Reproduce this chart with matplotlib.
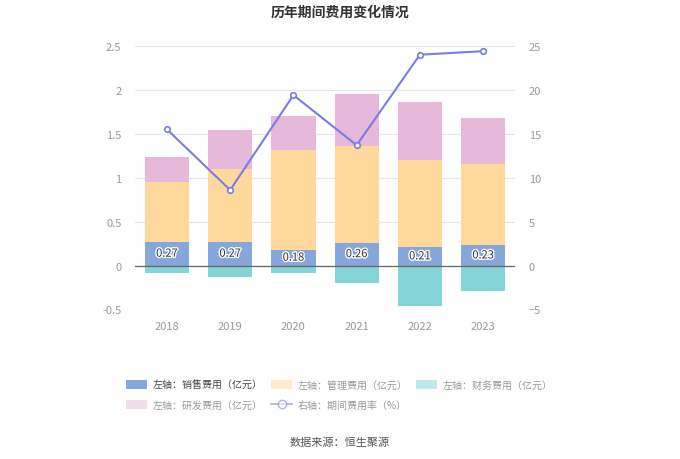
import matplotlib.pyplot as plt
import matplotlib.patheffects as pe
from matplotlib.patches import Patch
from matplotlib.lines import Line2D
import numpy as np

plt.rcParams['font.family'] = ['Noto Sans CJK SC', 'DejaVu Sans']

years = ['2018', '2019', '2020', '2021', '2022', '2023']
sales = [0.27, 0.27, 0.18, 0.26, 0.21, 0.23]
mgmt = [0.68, 0.83, 1.13, 1.10, 0.99, 0.93]
finance = [-0.08, -0.13, -0.08, -0.20, -0.455, -0.29]
rnd = [0.29, 0.44, 0.39, 0.59, 0.66, 0.52]
rate = [15.5, 8.6, 19.4, 13.7, 24.0, 24.4]

c_sales = '#87a6d9'
c_mgmt = '#ffd99b'
c_fin = '#85d5d8'
c_rnd = '#e6b8d9'
c_line = '#7b7be6'

fig = plt.figure(figsize=(6.8, 4.6), dpi=100)
ax = fig.add_axes([0.199, 0.325, 0.558, 0.573])
ax2 = ax.twinx()

x = np.arange(len(years))
w = 0.7
sales = np.array(sales)
mgmt = np.array(mgmt)
rnd = np.array(rnd)

ax.bar(x, sales, w, color=c_sales, zorder=2)
ax.bar(x, mgmt, w, bottom=sales, color=c_mgmt, zorder=2)
ax.bar(x, rnd, w, bottom=sales + mgmt, color=c_rnd, zorder=2)
ax.bar(x, finance, w, color=c_fin, zorder=2)

for i, v in enumerate(sales):
    ax.text(x[i], v / 2, f'{v:.2f}', ha='center', va='center', fontsize=8,
            color='#333333', zorder=4,
            path_effects=[pe.withStroke(linewidth=2, foreground='white')])

ax.axhline(0, color='#666666', lw=0.9, zorder=3)

ax.set_ylim(-0.5, 2.5)
ax.set_yticks([-0.5, 0, 0.5, 1, 1.5, 2, 2.5])
ax.set_yticklabels(['-0.5', '0', '0.5', '1', '1.5', '2', '2.5'])
ax.set_xlim(-0.5, len(years) - 0.5)
ax.set_xticks(x)
ax.set_xticklabels(years)
ax.grid(axis='y', color='#e6e6e6', lw=0.8, zorder=0)
ax.set_axisbelow(True)

ax2.plot(x, rate, color=c_line, lw=1.5, marker='o', ms=4,
         markerfacecolor='white', markeredgecolor=c_line, markeredgewidth=1.2, zorder=5)
ax2.set_ylim(-5, 25)
ax2.set_yticks([-5, 0, 5, 10, 15, 20, 25])

for a in (ax, ax2):
    for s in a.spines.values():
        s.set_visible(False)
    a.tick_params(length=0, colors='#999999', labelsize=8)
ax.tick_params(axis='x', pad=8)
ax.tick_params(axis='y', pad=10)
ax2.tick_params(axis='y', pad=10)

fig.text(0.5, 0.972, '历年期间费用变化情况', ha='center', va='center',
         fontsize=10, fontweight='bold', color='#333333')

# row-major order for a 3-column legend
h_sales = Patch(facecolor=c_sales, label='左轴：销售费用（亿元）')
h_mgmt = Patch(facecolor=c_mgmt, alpha=0.5, label='左轴：管理费用（亿元）')
h_fin = Patch(facecolor=c_fin, alpha=0.5, label='左轴：财务费用（亿元）')
h_rnd = Patch(facecolor=c_rnd, alpha=0.5, label='左轴：研发费用（亿元）')
h_rate = Line2D([0], [0], color=c_line, alpha=0.6, lw=1.2, marker='o', ms=6,
                markerfacecolor='white', markeredgecolor=c_line, label='右轴：期间费用率（%）')
handles = [h_sales, h_rnd, h_mgmt, h_rate, h_fin]
leg = fig.legend(handles=handles, ncol=3, loc='center', bbox_to_anchor=(0.499, 0.14),
                 frameon=False, fontsize=7.2, handlelength=2.1, handleheight=1.0,
                 columnspacing=0.9, handletextpad=0.5, labelspacing=1.0)
for t in leg.get_texts():
    t.set_color('#444444' if t.get_text().startswith('左轴：销售') else '#999999')

fig.text(0.5, 0.037, '数据来源：恒生聚源', ha='center', va='center',
         fontsize=8, color='#555555')

fig.savefig('out.png', dpi=100)
